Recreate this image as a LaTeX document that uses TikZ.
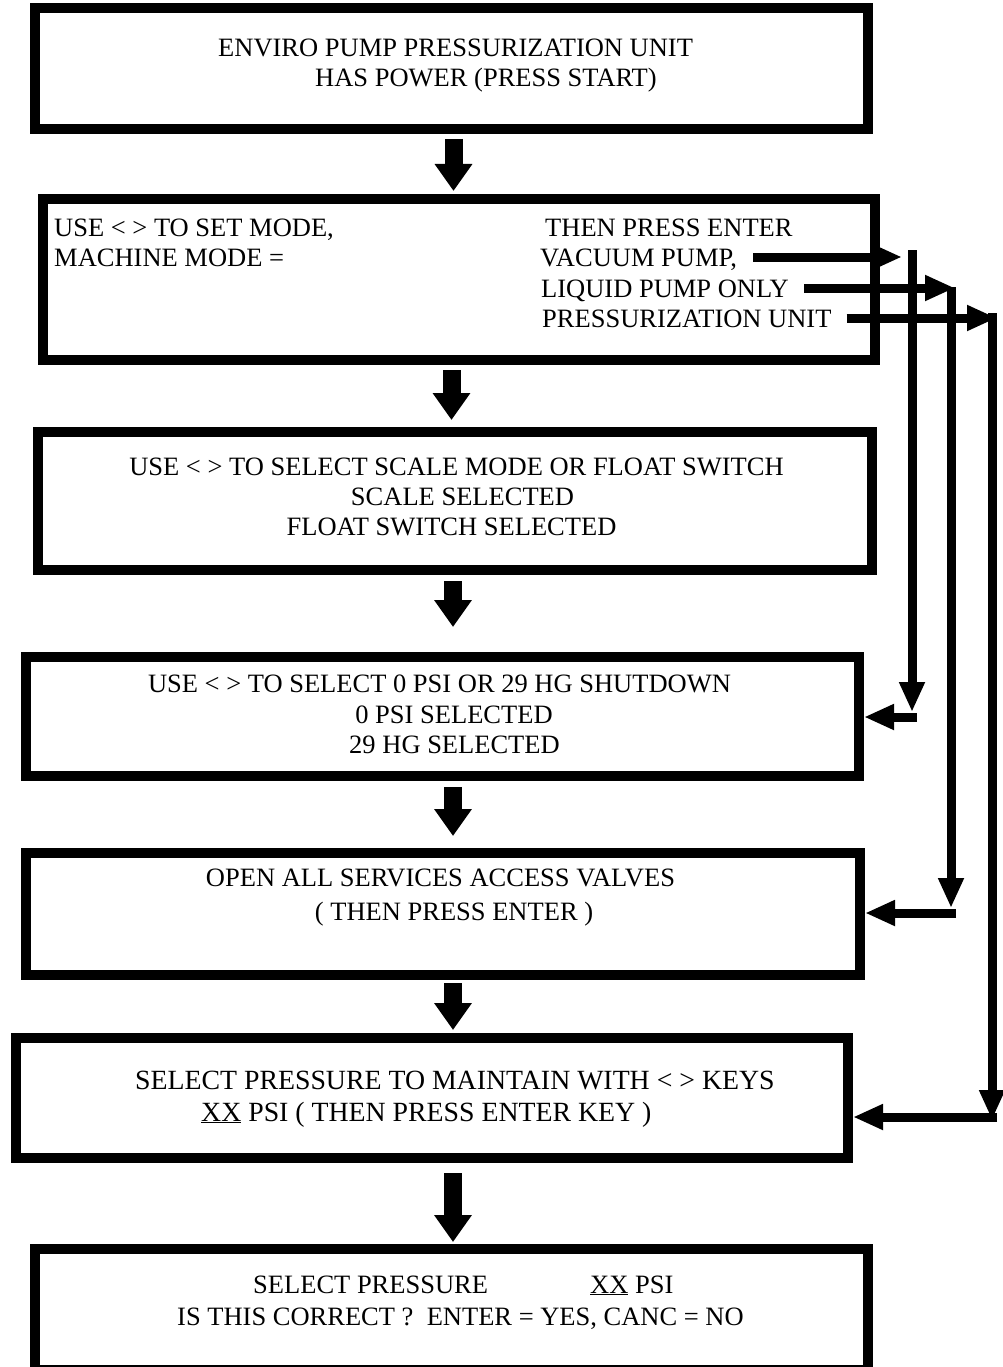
\documentclass[tikz,border=0pt]{standalone}
\usepackage{fontspec}
\setmainfont{Liberation Serif}
\usetikzlibrary{arrows.meta,calc}
\begin{document}
\begin{tikzpicture}[x=1pt,y=-1pt,
  box/.style={draw, line width=10pt, rectangle, inner sep=0pt, outer sep=5pt},
  txt/.style={anchor=base west, inner sep=0pt, font=\fontsize{26.5}{30}\selectfont},
  ctxt/.style={txt, anchor=base},
  wtxt/.style={txt, font=\fontsize{27.8}{30}\selectfont},
  blockarrow/.style={line width=18pt, -{Triangle[length=27pt,width=36pt]}},
  conn/.style={line width=9pt},
  tip/.style={-{Triangle[length=30pt,width=24pt]}}]
\useasboundingbox (0,0) rectangle (1002,1367);
% boxes
\node[box, minimum width=833pt, minimum height=121pt] (b1) at (451.5,68.5) {};
\node[box, minimum width=832pt, minimum height=161pt] (b2) at (459,279.5) {};
\node[box, minimum width=834pt, minimum height=138pt] (b3) at (455,501) {};
\node[box, minimum width=833pt, minimum height=119pt] (b4) at (442.5,716.5) {};
\node[box, minimum width=834pt, minimum height=122pt] (b5) at (443,914) {};
\node[box, minimum width=832pt, minimum height=120pt] (b6) at (432,1098) {};
\node[box, minimum width=833pt, minimum height=121pt] (b7) at (451.5,1309.5) {};
% texts
\node[txt] (t11) at (218,57) {ENVIRO PUMP PRESSURIZATION UNIT};
\node[txt] (t12) at (315,87) {HAS POWER (PRESS START)};
\node[txt] (t21) at (54,236) {USE < > TO SET MODE,};
\node[txt] (t22) at (545,236) {THEN PRESS ENTER};
\node[txt] (t23) at (54,266) {MACHINE MODE =};
\node[txt] (vac) at (540,266) {VACUUM PUMP,};
\node[txt] (liq) at (541,297) {LIQUID PUMP ONLY};
\node[txt] (pre) at (542,327) {PRESSURIZATION UNIT};
\node[ctxt] (t31) at (456.5,475) {USE < > TO SELECT SCALE MODE OR FLOAT SWITCH};
\node[ctxt] (t32) at (462.5,505) {SCALE SELECTED};
\node[ctxt] (t33) at (451.5,535) {FLOAT SWITCH SELECTED};
\node[ctxt] (t41) at (439.5,692) {USE < > TO SELECT 0 PSI OR 29 HG SHUTDOWN};
\node[ctxt] (t42) at (454,723) {0 PSI SELECTED};
\node[ctxt] (t43) at (454.5,753) {29 HG SELECTED};
\node[ctxt] (t51) at (440.5,886) {OPEN ALL SERVICES ACCESS VALVES};
\node[ctxt] (t52) at (454,920) {( THEN PRESS ENTER )};
\node[wtxt] (t61) at (135,1089) {SELECT PRESSURE TO MAINTAIN WITH < > KEYS};
\node[wtxt] (t62) at (201,1121) {\underline{XX} PSI ( THEN PRESS ENTER KEY )};
\node[txt] (t71) at (253,1293) {SELECT PRESSURE};
\node[txt] (t72) at (590,1293) {\underline{XX} PSI};
\node[txt] (t73) at (177,1325) {IS THIS CORRECT ?\ \ ENTER = YES, CANC = NO};
% block arrows between boxes
\coordinate (a1s) at (453.5,139);  \coordinate (a1e) at (453.5,191);
\coordinate (a2s) at (451.5,370);  \coordinate (a2e) at (451.5,420);
\coordinate (a3s) at (453,581);    \coordinate (a3e) at (453,627);
\coordinate (a4s) at (453,787);    \coordinate (a4e) at (453,836);
\coordinate (a5s) at (453,983);    \coordinate (a5e) at (453,1030);
\coordinate (a6s) at (453,1173);   \coordinate (a6e) at (453,1242);
\draw[blockarrow] (a1s) -- (a1e);
\draw[blockarrow] (a2s) -- (a2e);
\draw[blockarrow] (a3s) -- (a3e);
\draw[blockarrow] (a4s) -- (a4e);
\draw[blockarrow] (a5s) -- (a5e);
\draw[blockarrow] (a6s) -- (a6e);
% side connectors
\coordinate (v1) at (902,257);
\coordinate (v1t) at (912,250);  \coordinate (v1b) at (912,712);
\coordinate (v1h) at (917,717);
\coordinate (l1) at (955,288);
\coordinate (l1t) at (951,287);  \coordinate (l1b) at (951,908);
\coordinate (l1h) at (956,913);
\coordinate (p1) at (997,318);
\coordinate (p1t) at (992,313);  \coordinate (p1b) at (992,1120);
\coordinate (p1h) at (997,1117);
\draw[conn,tip] ($(vac.east |- v1)+(16,0)$) -- (v1);
\draw[conn,tip] (v1t) -- (v1b);
\draw[conn,tip] (v1h) -- (v1h -| b4.east);
\draw[conn,tip] ($(liq.east |- l1)+(15,0)$) -- (l1);
\draw[conn,tip] (l1t) -- (l1b);
\draw[conn,tip] (l1h) -- (l1h -| b5.east);
\draw[conn,tip] ($(pre.east |- p1)+(15,0)$) -- (p1);
\draw[conn,tip] (p1t) -- (p1b);
\draw[conn,tip] (p1h) -- (p1h -| b6.east);
\end{tikzpicture}
\end{document}
